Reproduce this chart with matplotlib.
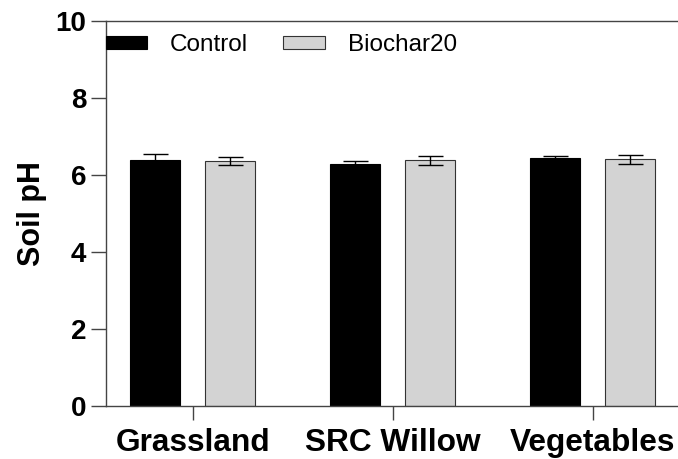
import matplotlib.pyplot as plt
import numpy as np

plt.rcParams['font.family'] = ['Liberation Sans', 'DejaVu Sans']

categorias = ["Grassland", "SRC Willow", "Vegetables"]
controle = [6.38, 6.28, 6.44]
controle_erro = [0.16, 0.08, 0.06]
biochar = [6.36, 6.38, 6.41]
biochar_erro = [0.10, 0.12, 0.12]
y_ticks = [0, 2, 4, 6, 8, 10]

x = np.arange(len(categorias))
largura = 0.25
desloc = 0.1875

fig = plt.figure(figsize=(6.78, 4.59), dpi=100)
ax = fig.add_axes([0.1559, 0.1155, 1 - 0.1559, 0.954 - 0.1155])

ax.bar(x - desloc, controle, largura, color='black', edgecolor='black',
       linewidth=0.8, label='Control', zorder=2)
ax.bar(x + desloc, biochar, largura, color='#d3d3d3', edgecolor='#333333',
       linewidth=0.8, label='Biochar20', zorder=2)
ax.errorbar(x - desloc, controle, yerr=controle_erro, fmt='none', ecolor='black',
            elinewidth=1, capsize=9, capthick=1, zorder=3)
ax.errorbar(x + desloc, biochar, yerr=biochar_erro, fmt='none', ecolor='black',
            elinewidth=1, capsize=9, capthick=1, zorder=3)

ax.set_xlim(-0.435, 2.4265)
ax.set_ylim(0, 10)
ax.set_yticks(y_ticks)
ax.set_xticks(x)
ax.set_xticklabels(categorias, fontsize=22.8, fontweight='bold')
for t in ax.get_yticklabels():
    t.set_fontsize(20)
    t.set_fontweight('bold')
ax.set_ylabel('Soil pH', fontsize=22, fontweight='bold', labelpad=6)

ax.spines['right'].set_visible(False)
for s in ['left', 'bottom', 'top']:
    ax.spines[s].set_linewidth(1)
    ax.spines[s].set_color('#444444')
ax.tick_params(axis='y', direction='out', length=11, width=1, color='#444444', pad=3)
ax.tick_params(axis='x', direction='out', length=10, width=1, color='#444444', pad=6)

ax.legend(loc='upper left', bbox_to_anchor=(0, 0.966), ncol=2, frameon=False,
          fontsize=17.5, handlelength=1.7, handleheight=0.46, handletextpad=0.95,
          columnspacing=1.45, borderpad=0, borderaxespad=0)

plt.savefig('out.png')
plt.close()
